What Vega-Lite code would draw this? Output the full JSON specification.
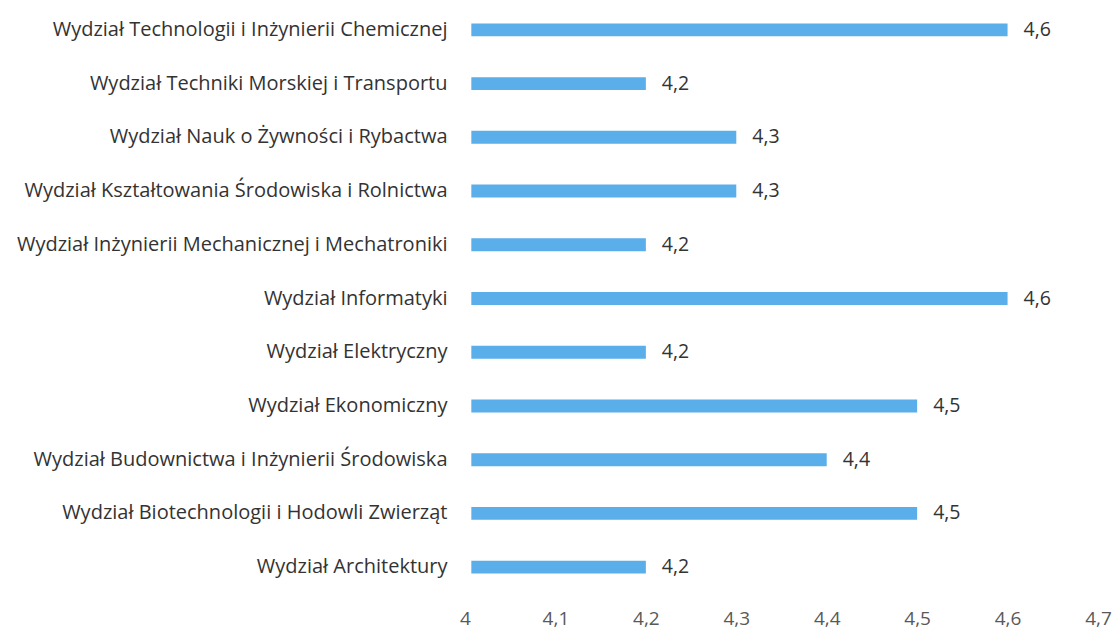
{
  "$schema": "https://vega.github.io/schema/vega-lite/v6.json",
  "autosize": {"type": "none"},
  "padding": {"left": 465, "top": 3, "right": 15, "bottom": 38},
  "width": 633,
  "height": 591,
  "background": "white",
  "config": {
    "locale": {"number": {"decimal": ",", "thousands": " ", "grouping": [3], "currency": ["", " zł"]}},
    "view": {"stroke": null},
    "font": "Open Sans"
  },
  "data": {
    "values": [
      {"wydzial": "Wydział Technologii i Inżynierii Chemicznej", "ocena": 4.6},
      {"wydzial": "Wydział Techniki Morskiej i Transportu", "ocena": 4.2},
      {"wydzial": "Wydział Nauk o Żywności i Rybactwa", "ocena": 4.3},
      {"wydzial": "Wydział Kształtowania Środowiska i Rolnictwa", "ocena": 4.3},
      {"wydzial": "Wydział Inżynierii Mechanicznej i Mechatroniki", "ocena": 4.2},
      {"wydzial": "Wydział Informatyki", "ocena": 4.6},
      {"wydzial": "Wydział Elektryczny", "ocena": 4.2},
      {"wydzial": "Wydział Ekonomiczny", "ocena": 4.5},
      {"wydzial": "Wydział Budownictwa i Inżynierii Środowiska", "ocena": 4.4},
      {"wydzial": "Wydział Biotechnologii i Hodowli Zwierząt", "ocena": 4.5},
      {"wydzial": "Wydział Architektury", "ocena": 4.2}
    ]
  },
  "encoding": {
    "y": {
      "field": "wydzial", "type": "nominal", "sort": null, "title": null,
      "scale": {"paddingInner": 0.76, "paddingOuter": 0.38},
      "axis": {"domain": false, "ticks": false, "labelPadding": 18, "labelFontSize": 20, "labelColor": "#333333", "labelFont": "Open Sans", "labelLimit": 600}
    },
    "x": {
      "field": "ocena", "type": "quantitative", "title": null,
      "scale": {"domain": [4, 4.7], "zero": false, "nice": false},
      "axis": {"values": [4, 4.1, 4.2, 4.3, 4.4, 4.5, 4.6, 4.7], "labelExpr": "replace(format(datum.value, '.1~f'), '.', ',')", "domain": false, "ticks": false, "grid": false, "labelPadding": 15, "labelFontSize": 19, "labelColor": "#595959", "labelFont": "Open Sans", "labelFlush": false}
    }
  },
  "layer": [
    {"mark": {"type": "bar", "color": "#5aaeea"}, "encoding": {"x2": {"datum": 4.007}}},
    {
      "mark": {"type": "text", "align": "left", "dx": 16, "fontSize": 19.5, "color": "#333333", "font": "Open Sans"},
      "encoding": {"text": {"field": "ocena", "type": "quantitative", "format": ".1f"}}
    }
  ]
}
